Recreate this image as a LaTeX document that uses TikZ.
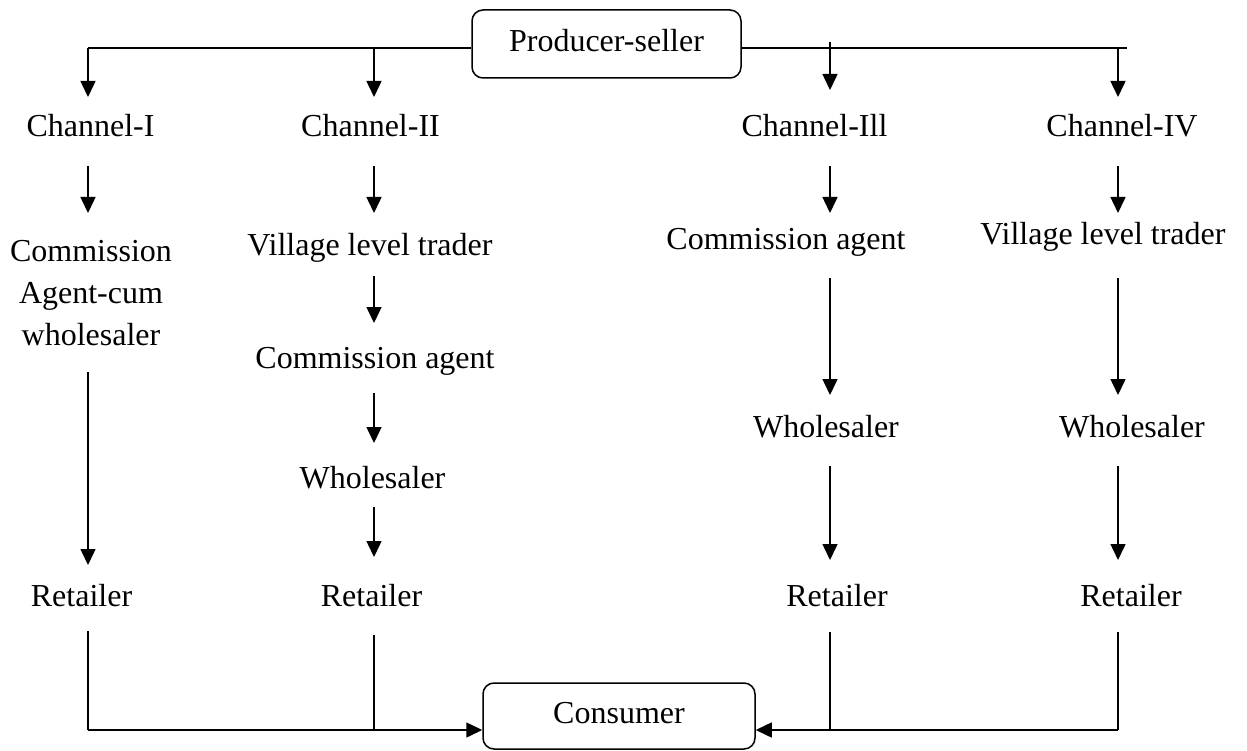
\documentclass[tikz,border=0pt]{standalone}
\usepackage{fontspec}
\setmainfont{Liberation Serif}
\usetikzlibrary{arrows.meta}
\tikzset{
  lbl/.style={anchor=base,inner sep=0pt,font=\fontsize{32}{42}\selectfont,align=center},
  box/.style={draw,line width=1.5pt,rounded corners=11pt,inner sep=0pt,
     font=\fontsize{32}{42}\selectfont,text height=22pt,text depth=7pt},
  ln/.style={line width=1.5pt},
  arr/.style={line width=1.5pt,-{Triangle[length=16pt,width=15pt]}},
}
\begin{document}
\begin{tikzpicture}[x=1pt,y=-1pt]
\useasboundingbox (0,0) rectangle (1247,751);
% boxes
\node[box,minimum width=269pt,minimum height=68pt] (prod) at (606.5,44) {Producer-seller};
\node[box,minimum width=272pt,minimum height=66pt] (cons) at (619,716) {Consumer};
% labels
\node[lbl] (ch1) at (90.5,137) {Channel-I};
\node[lbl] (ch2) at (370.5,137) {Channel-II};
\node[lbl] (ch3) at (814.5,137) {Channel-Ill};
\node[lbl] (ch4) at (1122,137) {Channel-IV};
\node[lbl] (cw1) at (91,345) {Commission\\Agent-cum\\wholesaler};
\node[lbl] (vt2) at (370,256) {Village level trader};
\node[lbl] (ca2) at (375,368) {Commission agent};
\node[lbl] (ws2) at (372.5,488) {Wholesaler};
\node[lbl] (ca3) at (786,250) {Commission agent};
\node[lbl] (vt4) at (1103,245) {Village level trader};
\node[lbl] (ws3) at (826,437) {Wholesaler};
\node[lbl] (ws4) at (1132,437) {Wholesaler};
\node[lbl] (rt1) at (81.5,606) {Retailer};
\node[lbl] (rt2) at (371.5,606) {Retailer};
\node[lbl] (rt3) at (837,606) {Retailer};
\node[lbl] (rt4) at (1131,606) {Retailer};
% column coordinates
\coordinate (j1) at (88,48);
\coordinate (j2) at (374,48);
\coordinate (j3) at (830,42);
\coordinate (j4) at (1118,48);
\coordinate (jr) at (1127,48);
\coordinate (b1) at (88,730);
\coordinate (b2) at (374,730);
\coordinate (b3) at (830,730);
\coordinate (b4) at (1118,730);
% top distribution
\draw[ln] (prod.west |- j1) -- (j1);
\draw[ln] (prod.east |- j1) -- (jr);
\draw[arr] (j1) -- (88,97);
\draw[arr] (j2) -- (374,97);
\draw[arr] (j3) -- (830,90);
\draw[arr] (j4) -- (1118,97);
% channel I
\draw[arr] (88,166) -- (88,213);
\draw[arr] (88,372) -- (88,565);
% channel II
\draw[arr] (374,166) -- (374,213);
\draw[arr] (374,276) -- (374,323);
\draw[arr] (374,393) -- (374,443);
\draw[arr] (374,507) -- (374,557);
% channel III
\draw[arr] (830,166) -- (830,213);
\draw[arr] (830,278) -- (830,395);
\draw[arr] (830,466) -- (830,560);
% channel IV
\draw[arr] (1118,166) -- (1118,213);
\draw[arr] (1118,278) -- (1118,395);
\draw[arr] (1118,466) -- (1118,560);
% to consumer
\draw[ln] (88,631) -- (b1);
\draw[ln] (374,635) -- (b2);
\draw[ln] (830,632) -- (b3);
\draw[ln] (1118,632) -- (b4);
\draw[arr] (b1) -- (cons.west |- b1);
\draw[arr] (b4) -- (cons.east |- b4);
\end{tikzpicture}
\end{document}
